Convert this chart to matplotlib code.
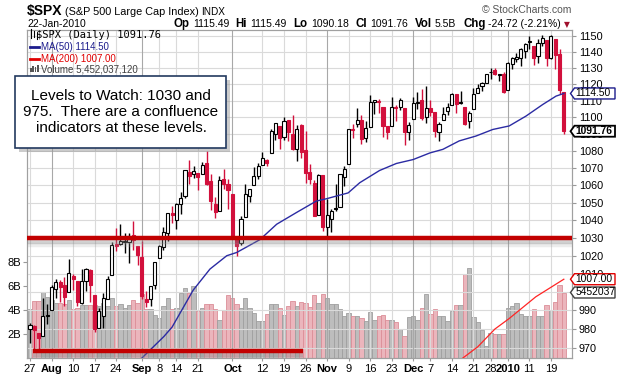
import numpy as np
import matplotlib.pyplot as plt
import matplotlib.patheffects as pe
from matplotlib.patches import Rectangle, Polygon
from matplotlib.lines import Line2D

plt.rcParams['font.family'] = ['Liberation Sans', 'DejaVu Sans']

W, H = 629, 383

def fx(x):
    return x / W

def fy(y):
    return 1 - y / H

# ---- data (S&P 500 daily, 27-Jul-2009 .. 22-Jan-2010) ----
prev_close = 979.26
opens = [979.9, 981.5, 977.7, 976.0, 986.8, 990.2, 1001.4, 1005.4, 1004.1, 999.8,
         1008.9, 1005.8, 994.0, 1005.9, 1012.2, 998.2, 980.6, 986.9, 996.4, 1009.1,
         1026.6, 1026.6, 1027.4, 1027.8, 1031.6, 1025.2, 1019.5, 996.1, 996.1, 1003.8,
         1018.7, 1025.1, 1033.0, 1043.9, 1040.2, 1049.0, 1054.0, 1067.9, 1066.6, 1067.1,
         1066.4, 1072.7, 1062.6, 1049.5, 1045.4, 1063.7, 1061.0, 1054.9, 1029.7, 1026.9,
         1042.0, 1053.7, 1060.0, 1065.3, 1071.6, 1074.96, 1078.7, 1090.4, 1094.7, 1088.2,
         1098.6, 1090.4, 1081.0, 1095.6, 1080.4, 1067.5, 1061.5, 1043.2, 1066.1, 1036.2,
         1040.9, 1047.1, 1047.3, 1064.95, 1072.3, 1092.2, 1096.0, 1098.3, 1087.6, 1094.1,
         1109.2, 1109.4, 1106.4, 1094.7, 1094.9, 1105.8, 1106.5, 1105.5, 1091.1, 1098.9,
         1109.0, 1110.6, 1100.4, 1105.5, 1103.0, 1091.1, 1098.7, 1104.0, 1107.8, 1114.1,
         1108.6, 1106.4, 1097.9, 1105.3, 1114.5, 1118.8, 1121.1, 1127.5, 1128.6, 1125.5,
         1126.6, 1116.56, 1132.66, 1135.71, 1136.27, 1140.52, 1145.96, 1143.81, 1137.31, 1145.68,
         1147.72, 1136.03, 1147.95, 1138.68, 1115.49]
highs = [983.0, 982.4, 977.8, 996.7, 993.2, 1003.6, 1007.1, 1006.6, 1008.0, 1018.0,
         1010.1, 1005.8, 1012.8, 1013.1, 1012.6, 998.2, 991.2, 999.6, 1008.9, 1027.6,
         1035.8, 1037.8, 1032.5, 1033.0, 1039.5, 1025.2, 1028.5, 1000.3, 1003.4, 1016.5,
         1026.1, 1036.3, 1044.1, 1048.2, 1049.7, 1056.0, 1068.8, 1074.8, 1071.5, 1067.3,
         1073.8, 1080.2, 1066.3, 1053.5, 1065.1, 1069.6, 1063.4, 1054.9, 1030.6, 1042.6,
         1060.6, 1058.0, 1070.7, 1073.0, 1079.5, 1075.3, 1093.2, 1096.6, 1094.7, 1100.2,
         1098.6, 1101.4, 1095.2, 1095.8, 1091.8, 1072.5, 1063.3, 1066.8, 1066.1, 1052.2,
         1046.4, 1061.0, 1066.7, 1071.5, 1093.2, 1096.1, 1105.4, 1101.2, 1097.6, 1113.7,
         1110.6, 1111.1, 1106.4, 1094.7, 1112.4, 1107.6, 1111.8, 1105.5, 1097.2, 1112.3,
         1115.6, 1117.3, 1119.1, 1110.7, 1103.0, 1097.0, 1106.3, 1108.5, 1114.8, 1114.1,
         1116.2, 1106.4, 1103.7, 1117.7, 1120.3, 1121.6, 1126.5, 1130.4, 1130.4, 1126.4,
         1127.6, 1133.87, 1136.63, 1139.19, 1142.46, 1145.39, 1149.74, 1143.81, 1148.40, 1150.41,
         1147.77, 1150.45, 1147.95, 1141.58, 1115.49]
lows = [972.3, 969.4, 968.7, 976.0, 982.9, 990.2, 996.7, 994.3, 992.5, 999.8,
        1000.99, 992.4, 993.4, 1000.8, 994.6, 978.5, 980.6, 980.6, 996.4, 1009.1,
        1022.5, 1026.2, 1021.6, 1016.2, 1023.1, 1014.6, 996.3, 991.97, 992.25, 1001.7,
        1018.7, 1023.0, 1028.0, 1038.4, 1035.0, 1043.4, 1052.9, 1061.0, 1064.3, 1057.5,
        1066.4, 1060.4, 1045.9, 1041.2, 1045.4, 1057.8, 1046.5, 1029.4, 1019.95, 1025.9,
        1042.0, 1050.1, 1060.0, 1063.4, 1071.6, 1071.2, 1078.7, 1086.4, 1081.5, 1086.5,
        1086.2, 1080.8, 1074.3, 1075.9, 1061.4, 1060.6, 1042.2, 1043.2, 1033.9, 1029.4,
        1033.4, 1045.2, 1047.3, 1059.3, 1072.3, 1087.5, 1094.5, 1084.3, 1085.3, 1094.1,
        1102.2, 1102.7, 1088.4, 1087.0, 1094.9, 1097.6, 1104.7, 1083.7, 1086.3, 1098.9,
        1105.3, 1098.7, 1096.5, 1100.8, 1088.6, 1085.9, 1098.7, 1101.3, 1107.8, 1102.5,
        1107.96, 1095.3, 1093.9, 1105.3, 1114.5, 1116.0, 1121.1, 1123.5, 1126.1, 1121.9,
        1114.8, 1116.56, 1129.66, 1133.95, 1131.32, 1136.22, 1142.02, 1131.77, 1133.18, 1143.80,
        1131.39, 1135.77, 1129.25, 1114.24, 1090.18]
closes = [982.18, 979.62, 975.15, 986.75, 987.48, 1002.63, 1005.65, 1002.72, 997.08, 1010.48,
          1007.10, 994.35, 1005.81, 1012.73, 1004.09, 979.73, 989.67, 996.46, 1007.37, 1026.13,
          1025.57, 1028.00, 1028.12, 1030.98, 1028.93, 1020.62, 998.04, 994.75, 1003.24, 1016.40,
          1025.39, 1033.37, 1044.14, 1042.73, 1049.34, 1052.63, 1068.76, 1065.49, 1068.30, 1064.66,
          1071.66, 1060.87, 1050.78, 1044.38, 1062.98, 1060.61, 1057.08, 1029.85, 1025.21, 1040.46,
          1054.72, 1057.58, 1065.48, 1071.49, 1076.19, 1073.19, 1092.02, 1096.56, 1087.68, 1097.91,
          1091.06, 1081.40, 1092.91, 1079.60, 1066.95, 1063.41, 1042.63, 1066.11, 1036.19, 1042.88,
          1045.41, 1046.50, 1066.63, 1069.30, 1093.08, 1093.01, 1098.51, 1087.24, 1093.48, 1109.30,
          1110.32, 1109.80, 1094.90, 1091.38, 1106.24, 1105.65, 1110.63, 1091.49, 1095.63, 1108.86,
          1109.24, 1099.92, 1105.98, 1103.25, 1091.94, 1095.95, 1102.35, 1106.41, 1114.11, 1107.93,
          1109.18, 1096.08, 1102.47, 1114.05, 1118.02, 1120.59, 1126.48, 1127.78, 1126.20, 1126.42,
          1115.10, 1132.99, 1136.52, 1137.14, 1141.69, 1144.98, 1146.98, 1136.22, 1145.68, 1148.46,
          1136.03, 1150.23, 1138.04, 1116.48, 1091.76]
# volume in billions of shares
volume = [4.1, 4.75, 4.75, 5.5, 5.1, 4.8, 4.6, 4.6, 4.5, 4.8,
          4.1, 4.2, 4.4, 4.4, 4.4, 4.4, 4.3, 4.6, 4.3, 5.0,
          4.3, 4.5, 4.2, 4.4, 4.8, 4.6, 5.3, 4.1, 4.1, 3.6,
          3.3, 4.33, 4.99, 4.05, 4.19, 5.44, 5.86, 5.44, 6.0, 3.9,
          4.19, 4.5, 4.5, 4.05, 3.14, 3.97, 5.22, 4.97, 4.47, 4.19,
          4.97, 4.19, 3.78, 3.08, 3.08, 3.7, 4.5, 4.5, 4.14, 3.58,
          4.33, 4.75, 4.33, 4.7, 4.6, 4.25, 5.25, 4.55, 5.3, 5.0,
          4.5, 4.5, 4.05, 3.5, 3.75, 3.5, 3.5, 3.35, 3.1, 3.8,
          3.15, 3.5, 3.6, 3.2, 3.15, 3.0, 2.4, 1.85, 3.4, 3.5,
          3.15, 4.2, 5.3, 3.67, 4.1, 3.5, 3.5, 3.1, 3.9, 4.4,
          4.4, 7.0, 7.5, 3.4, 2.97, 2.3, 1.0, 2.1, 2.0, 2.0,
          2.0, 4.2, 4.35, 4.6, 3.67, 3.5, 3.5, 4.1, 3.5, 3.5,
          4.4, 4.0, 4.7, 6.1, 5.45]

# moving averages as traced on the chart (trading-day index, value)
ma50_day = [25.5, 31.1, 33.0, 37.9, 41.8, 45.7, 48.0, 53.4, 57.3, 62.0, 66.5, 68.8,
            71.2, 73.9, 76.6, 81.2, 85.1, 89.0, 92.9, 95.9, 99.7, 103.6, 107.5,
            111.3, 115.2, 119.1, 122.2, 124.0]
ma50_val = [963.5, 976.0, 981.0, 1001.0, 1012.6, 1020.0, 1021.8, 1029.0, 1037.7, 1044.5,
            1050.9, 1052.2, 1053.8, 1055.6, 1061.5, 1068.6, 1072.7, 1075.0, 1078.9, 1081.0,
            1086.0, 1088.9, 1092.8, 1094.9, 1100.8, 1107.8, 1112.9, 1114.5]
ma200_day = [100.2, 104.0, 108.0, 111.3, 117.5, 124.0]
ma200_val = [964.0, 970.5, 980.0, 985.6, 997.4, 1007.0]

tick_day = [0, 5, 10, 15, 20, 26, 30, 34, 39, 47, 54, 59, 64, 69, 74, 79, 84, 89,
            93, 98, 103, 107, 111, 116, 121]
tick_lab = ['27', 'Aug', '10', '17', '24', 'Sep', '8', '14', '21', 'Oct', '12', '19',
            '26', 'Nov', '9', '16', '23', 'Dec', '7', '14', '21', '28', '2010', '11', '19']
month_lab = ['Aug', 'Sep', 'Oct', 'Nov', 'Dec', '2010']
price_ticks = list(range(970, 1151, 10))

# ---- figure ----
fig = plt.figure(figsize=(6.29, 3.83), dpi=100)
L, R, T, B = 27, 572, 30, 358
axv = fig.add_axes([fx(L), fy(B), (R - L) / W, (B - T) / H])
ax = axv.twinx()

o = np.array(opens); h = np.array(highs); lo = np.array(lows); c = np.array(closes)
x = np.arange(len(c))
prev = np.r_[prev_close, c[:-1]]
up = c >= prev
red = '#d2103c'
col = np.where(up, 'black', red)

# volume
vcol = np.where(up, '#bdbdbd', '#ebb5bc')
vedge = np.where(up, '#9f9f9f', '#dc8e98')
axv.bar(x, np.array(volume) * 1e9, width=1.0, color=vcol, edgecolor=vedge, lw=0.6, zorder=2)
axv.set_ylim(0, 27.3e9)
axv.set_yticks([2e9, 4e9, 6e9, 8e9])
axv.set_yticklabels(['2B', '4B', '6B', '8B'])
axv.set_xlim(-0.7, 125.9)
axv.set_xticks(tick_day)
axv.set_xticklabels(tick_lab)
for t in axv.get_xticklabels():
    if t.get_text() in month_lab:
        t.set_fontweight('bold')
axv.tick_params(axis='x', labelsize=8, length=2, pad=2, color='#999999')
axv.tick_params(axis='y', labelsize=8, length=3, pad=1, color='#999999')

# price
ymin, ymax = 964.6, 1153.8
ax.set_yscale('log')
ax.set_ylim(ymin, ymax)
ax.set_yticks(price_ticks)
ax.set_yticks([], minor=True)
ax.set_yticklabels([str(t) for t in price_ticks])
ax.tick_params(axis='y', labelsize=7.8, length=3, pad=2, color='#999999')

for sp in list(ax.spines.values()) + list(axv.spines.values()):
    sp.set_color('#a0a0a0')

# grid
for t in price_ticks:
    ax.axhline(t, color='#dadada', lw=0.8, zorder=0)
for d, lab in zip(tick_day, tick_lab):
    gc = '#a8a8a8' if lab in month_lab else '#dadada'
    ax.axvline(d, color=gc, lw=0.8, zorder=0)

# candles
ax.vlines(x, lo, h, color=col, lw=1, zorder=3)
body_lo = np.minimum(o, c)
body_h = np.maximum(np.abs(c - o), 0.35)
face = [cc if cl < op else 'white' for cc, cl, op in zip(col, c, o)]
ax.bar(x, body_h, bottom=body_lo, width=0.72, color=face, edgecolor=col, lw=0.8, zorder=4)

# moving averages
ax.plot(ma50_day, ma50_val, color='#2b2ba3', lw=1, zorder=5)
ax.plot(ma200_day, ma200_val, color='#ff2424', lw=0.9, zorder=5)

# support lines with shadow
shadow = [pe.SimpleLineShadow(offset=(0, -3), shadow_color='#808080', alpha=0.35),
          pe.SimpleLineShadow(offset=(0, -5), shadow_color='#a0a0a0', alpha=0.2),
          pe.Normal()]
ax.plot([-0.7, 125.9], [1030, 1030], color='#c20000', lw=3.2, solid_capstyle='butt',
        zorder=6, path_effects=shadow)
ax.plot([0.7, 63.4], [968.5, 968.5], color='#c20000', lw=3.2, solid_capstyle='butt',
        zorder=6, path_effects=shadow)

# value tags on the right axis (pointed boxes)
pxscale = np.log(ymax / ymin) / (B - T)

def tag(val, text, ec, weight='normal', lw=1.0):
    tr = ax.get_yaxis_transform()
    ax_x = lambda p: (p - L) / (R - L)
    dy = np.exp(5.5 * pxscale)
    pts = [(ax_x(570.5), val), (ax_x(574.5), val * dy), (ax_x(615), val * dy),
           (ax_x(615), val / dy), (ax_x(574.5), val / dy)]
    ax.add_patch(Polygon(pts, closed=True, transform=tr, fc='white', ec=ec, lw=lw,
                         clip_on=False, zorder=8))
    ax.text(ax_x(575.5), val, text, transform=tr, ha='left', va='center', fontsize=7.4,
            fontweight=weight, clip_on=False, zorder=9)

tag(1114.50, '1114.50', '#1c1c8c')
tag(1091.76, '1091.76', 'black', 'bold', 1.3)
v_tag = ymin * (ymax / ymin) ** (5.452037 / 27.3)
tag(v_tag, '5452037', '#404040')
tag(1007.00, '1007.00', '#e00000')

# header
fig.text(fx(27), fy(15), '$SPX', fontsize=10, fontweight='bold', va='baseline')
fig.text(fx(65), fy(15), '(S&P 500 Large Cap Index)', fontsize=7.8, va='baseline')
fig.text(fx(201), fy(15), 'INDX', fontsize=7.2, va='baseline')
fig.text(fx(482), fy(13), '\u00a9 StockCharts.com', fontsize=7.5, color='#555555', va='baseline')
fig.text(fx(27), fy(27), '22-Jan-2010', fontsize=7.5, va='baseline')
hdr = [(173, 'Op', True), (193, '1115.49', False), (235, 'Hi', True), (250, '1115.49', False),
       (293, 'Lo', True), (311, '1090.18', False), (355, 'Cl', True), (370, '1091.76', False),
       (415, 'Vol', True), (435, '5.5B', False), (463, 'Chg', True), (488, '-24.72 (-2.21%)', False)]
for px, s, b in hdr:
    fig.text(fx(px), fy(27), s, fontsize=8.3 if b else 7.5,
             fontweight='bold' if b else 'normal', va='baseline')
fig.text(fx(564), fy(27), '\u25bc', fontsize=5.5, color='#a0102c', va='baseline',
         family='DejaVu Sans')

# legend rows
fig.text(fx(36), fy(38), '$SPX (Daily) 1091.76', fontsize=7.5, family='DejaVu Sans Mono',
         va='baseline')
fig.text(fx(41), fy(50), 'MA(50) 1114.50', fontsize=7, color='#1c1c8c', va='baseline')
fig.text(fx(41), fy(62), 'MA(200) 1007.00', fontsize=7, color='#e00000', va='baseline')
fig.text(fx(41), fy(72), 'Volume 5,452,037,120', fontsize=7, color='#404040', va='baseline')
fig.add_artist(Line2D([fx(30), fx(39)], [fy(47), fy(47)], color='#1c1c8c', lw=2))
fig.add_artist(Line2D([fx(30), fx(39)], [fy(59), fy(59)], color='#e00000', lw=2))
for k, hh in enumerate([4, 6, 5, 7]):
    fig.add_artist(Rectangle((fx(30 + 2.3 * k), fy(72)), 1.6 / W, hh / H,
                             color='#555555', lw=0))
for k, (a, b2) in enumerate([(29, 38), (31, 37), (33, 39)]):
    xx = 31 + 3 * k
    fig.add_artist(Line2D([fx(xx), fx(xx)], [fy(b2), fy(a)], color='black', lw=0.8))

# annotation box
fig.add_artist(Rectangle((fx(19), fy(152)), 211 / W, 72 / H, transform=fig.transFigure,
                         fc='#9a9a9a', ec='none', alpha=0.5, zorder=9))
fig.add_artist(Rectangle((fx(15), fy(148)), 211 / W, 72 / H, transform=fig.transFigure,
                         fc='white', ec='#22395f', lw=1.2, zorder=10))
fig.text(fx(121), fy(112), 'Levels to Watch: 1030 and\n975.  There are a confluence\n'
         'indicators at these levels.', fontsize=11, ha='center', va='center',
         linespacing=1.2, zorder=11)

fig.savefig('out.png', dpi=100)
